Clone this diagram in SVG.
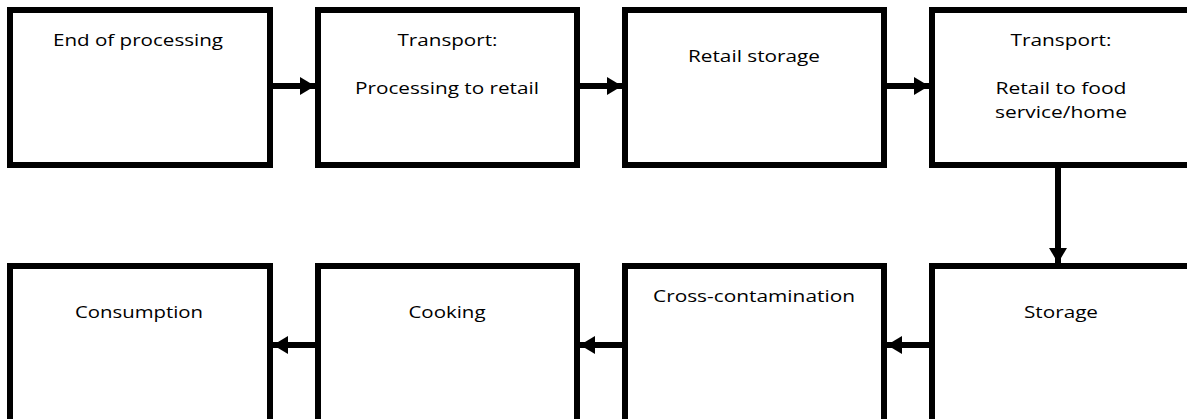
<svg xmlns="http://www.w3.org/2000/svg" width="1187" height="419" viewBox="0 0 1187 419">
<style>
.box{fill:#fff;stroke:#000;stroke-width:6}
.t{font-family:"Open Sans","Liberation Sans",sans-serif;font-size:17px;fill:#000;text-anchor:middle}
.c{stroke:#000;stroke-width:6;fill:none}
</style>
<defs>
<marker id="ah" viewBox="0 0 15 18" refX="15" refY="9" markerWidth="15" markerHeight="18" markerUnits="userSpaceOnUse" orient="auto">
<path d="M0,0 L15,9 L0,18 Z" fill="#000"/>
</marker>
</defs>
<rect width="1187" height="419" fill="#fff"/>
<g id="n1"><rect class="box" x="10" y="10" width="260" height="155"/><text class="t" x="138" y="46" textLength="170" lengthAdjust="spacingAndGlyphs">End of processing</text></g>
<g id="n2"><rect class="box" x="318" y="10" width="259" height="155"/><text class="t" x="447.5" y="46" textLength="100" lengthAdjust="spacingAndGlyphs">Transport:</text><text class="t" x="447" y="94" textLength="184" lengthAdjust="spacingAndGlyphs">Processing to retail</text></g>
<g id="n3"><rect class="box" x="625" y="10" width="259" height="155"/><text class="t" x="754" y="62" textLength="132" lengthAdjust="spacingAndGlyphs">Retail storage</text></g>
<g id="n4"><rect class="box" x="932" y="10" width="259" height="155"/><text class="t" x="1061" y="46" textLength="101" lengthAdjust="spacingAndGlyphs">Transport:</text><text class="t" x="1061" y="94" textLength="131" lengthAdjust="spacingAndGlyphs">Retail to food</text><text class="t" x="1061" y="118" textLength="132" lengthAdjust="spacingAndGlyphs">service/home</text></g>
<g id="n5"><rect class="box" x="932" y="266" width="259" height="160"/><text class="t" x="1061" y="318" textLength="74" lengthAdjust="spacingAndGlyphs">Storage</text></g>
<g id="n6"><rect class="box" x="625" y="266" width="259" height="160"/><text class="t" x="754" y="302" textLength="202" lengthAdjust="spacingAndGlyphs">Cross-contamination</text></g>
<g id="n7"><rect class="box" x="318" y="266" width="259" height="160"/><text class="t" x="447" y="318" textLength="77" lengthAdjust="spacingAndGlyphs">Cooking</text></g>
<g id="n8"><rect class="box" x="10" y="266" width="260" height="160"/><text class="t" x="139" y="318" textLength="128" lengthAdjust="spacingAndGlyphs">Consumption</text></g>
<g id="connectors">
<line class="c" x1="273" y1="86" x2="315" y2="86" marker-end="url(#ah)"/>
<line class="c" x1="580" y1="86" x2="622" y2="86" marker-end="url(#ah)"/>
<line class="c" x1="887" y1="86" x2="929" y2="86" marker-end="url(#ah)"/>
<line class="c" x1="1058" y1="168" x2="1058" y2="263" marker-end="url(#ah)"/>
<line class="c" x1="929" y1="345" x2="887" y2="345" marker-end="url(#ah)"/>
<line class="c" x1="622" y1="345" x2="580" y2="345" marker-end="url(#ah)"/>
<line class="c" x1="315" y1="345" x2="273" y2="345" marker-end="url(#ah)"/>
</g>
</svg>
